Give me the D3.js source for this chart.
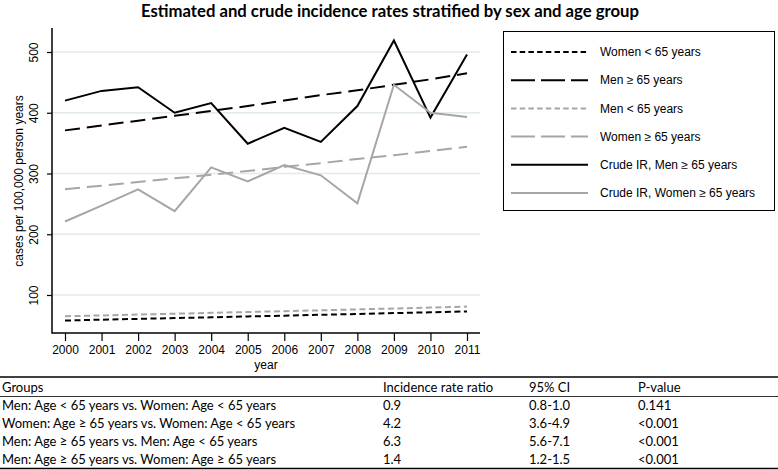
<!DOCTYPE html>
<meta charset="utf-8">
<style>
  body { margin: 0; background: #fff; }
  svg text { fill: #000; }
  .tick text { font-family: "Liberation Sans", Arial, sans-serif; font-size: 12px; }
  .lbl { font-family: "Liberation Sans", Arial, sans-serif; }
  .cal { font-family: Lato, "Open Sans", sans-serif; }
</style>
<script src="https://d3js.org/d3.v7.min.js"></script>
<div id="chart"></div>
<script>
// years on the x axis
const years = [2000, 2001, 2002, 2003, 2004, 2005, 2006, 2007, 2008, 2009, 2010, 2011];
const yTicks = [100, 200, 300, 400, 500];

// estimated rates (per 100,000 person years)
const womenUnder65 = [58, 59.4, 60.7, 62, 63.3, 64.7, 66, 67.4, 68.8, 70.2, 71.5, 73];
const menOver65 = [371, 379, 387, 395, 403, 411, 420, 429, 437, 446, 455, 465];
const menUnder65 = [65, 66.4, 67.8, 69.2, 70.6, 72, 73.4, 74.8, 76.3, 77.8, 79.3, 81];
const womenOver65 = [274, 280, 286, 292, 298, 304, 311, 317, 324, 330, 337, 344];
// crude rates
const crudeMen = [420, 436, 442, 400, 416, 349, 375, 352, 411, 519, 392, 496];
const crudeWomen = [221, 247, 274, 238, 310, 287, 314, 297, 251, 446, 400, 393];

const seriesNames = ["Women < 65 years", "Men \u2265 65 years", "Men < 65 years",
  "Women \u2265 65 years", "Crude IR, Men \u2265 65 years", "Crude IR, Women \u2265 65 years"];

// table
const tableHead = ["Groups", "Incidence rate ratio", "95% CI", "P-value"];
const groups = ["Men: Age < 65 years vs. Women: Age < 65 years",
  "Women: Age \u2265 65 years vs. Women: Age < 65 years",
  "Men: Age \u2265 65 years vs. Men: Age < 65 years",
  "Men: Age \u2265 65 years vs. Women: Age \u2265 65 years"];
const irr = ["0.9", "4.2", "6.3", "1.4"];
const ci = ["0.8-1.0", "3.6-4.9", "5.6-7.1", "1.2-1.5"];
const pval = ["0.141", "<0.001", "<0.001", "<0.001"];

const W = 778, H = 470;
const svg = d3.select("#chart").append("svg")
  .attr("width", W).attr("height", H);

const grey = "#a6a6a6";
const styles = [
  {values: womenUnder65, color: "#000", dash: "6,3.5", leg: "5.5,3.2"},
  {values: menOver65, color: "#000", dash: "15,7", leg: "24,6"},
  {values: menUnder65, color: grey, dash: "6,3.5", leg: "5.5,3.2"},
  {values: womenOver65, color: grey, dash: "15,7", leg: "24,6"},
  {values: crudeMen, color: "#000", dash: null, leg: null},
  {values: crudeWomen, color: grey, dash: null, leg: null}
];

const x = d3.scaleLinear().domain([2000, 2011]).range([65, 467]);
const y = d3.scaleLinear().domain([100, 500]).range([295, 52]);
const plotL = 52, plotR = 480, plotT = 28, plotB = 333;

// title
svg.append("text").attr("class", "cal")
  .attr("x", 390).attr("y", 17)
  .attr("text-anchor", "middle")
  .style("font-size", "16.7px").style("font-weight", "bold")
  .text("Estimated and crude incidence rates stratified by sex and age group");

// grid lines
svg.append("g").selectAll("line").data(yTicks).join("line")
  .attr("x1", plotL).attr("x2", plotR)
  .attr("y1", d => y(d)).attr("y2", d => y(d))
  .attr("stroke", "#e3eaea").attr("stroke-width", 1.5);

// axes
const xAxis = svg.append("g").attr("transform", `translate(0,${plotB})`)
  .call(d3.axisBottom(x).tickValues(years).tickFormat(d3.format("d")).tickSize(8).tickPadding(4));
xAxis.select(".domain").remove();
xAxis.selectAll("line").attr("stroke-width", 1.2);

const yAxis = svg.append("g").attr("transform", `translate(${plotL},0)`)
  .call(d3.axisLeft(y).tickValues(yTicks).tickSize(5));
yAxis.select(".domain").remove();
yAxis.selectAll("line").attr("stroke-width", 1.2);
yAxis.selectAll("text")
  .attr("transform", "rotate(-90)")
  .attr("x", 0).attr("y", -14).attr("dy", 0)
  .attr("text-anchor", "middle");

svg.append("path")
  .attr("d", `M${plotL},${plotT}V${plotB}H${plotR}`)
  .attr("fill", "none").attr("stroke", "#000").attr("stroke-width", 1.5);

svg.append("text").attr("class", "lbl")
  .attr("x", 266).attr("y", 369).attr("text-anchor", "middle")
  .style("font-size", "12px")
  .text("year");

svg.append("text").attr("class", "lbl")
  .attr("transform", `translate(23,181) rotate(-90)`)
  .attr("text-anchor", "middle")
  .style("font-size", "12px")
  .text("cases per 100,000 person years");

// lines
const line = d3.line().x((d, i) => x(years[i])).y(d => y(d));
svg.append("g").selectAll("path").data(styles).join("path")
  .attr("d", d => line(d.values))
  .attr("fill", "none")
  .attr("stroke", d => d.color)
  .attr("stroke-width", 2)
  .attr("stroke-dasharray", d => d.dash);

// legend
svg.append("rect")
  .attr("x", 503.5).attr("y", 31.5).attr("width", 271).attr("height", 179)
  .attr("fill", "#fff").attr("stroke", "#000").attr("stroke-width", 1);
const ly = d3.scalePoint().domain(seriesNames).range([52, 193]);
const leg = svg.append("g").selectAll("g").data(styles).join("g")
  .attr("transform", (d, i) => `translate(0,${ly(seriesNames[i])})`);
leg.append("line")
  .attr("x1", 511).attr("x2", 588)
  .attr("stroke", d => d.color).attr("stroke-width", 2)
  .attr("stroke-dasharray", d => d.leg);
leg.append("text").attr("class", "lbl")
  .attr("x", 600).attr("dy", "0.35em")
  .style("font-size", "12px")
  .text((d, i) => seriesNames[i]);

// table
const colX = [2, 383, 529, 638];
const rowY = [387, 405, 423, 441, 459];
const rows = [tableHead].concat(groups.map((g, i) => [g, irr[i], ci[i], pval[i]]));
svg.append("line").attr("x1", 0).attr("x2", W).attr("y1", 377).attr("y2", 377)
  .attr("stroke", "#000").attr("stroke-width", 1.5);
svg.append("line").attr("x1", 0).attr("x2", W).attr("y1", 396.5).attr("y2", 396.5)
  .attr("stroke", "#000").attr("stroke-width", 0.8);
svg.append("line").attr("x1", 0).attr("x2", W).attr("y1", 468.5).attr("y2", 468.5)
  .attr("stroke", "#000").attr("stroke-width", 1.5);
const tr = svg.append("g").selectAll("g").data(rows).join("g")
  .attr("transform", (d, i) => `translate(0,${rowY[i]})`);
tr.selectAll("text").data(d => d).join("text").attr("class", "cal")
  .attr("x", (d, j) => colX[j]).attr("dy", "0.35em")
  .style("font-size", "13px")
  .text(d => d);
</script>
